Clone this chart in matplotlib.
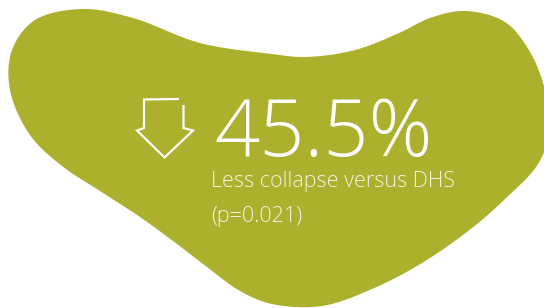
import numpy as np
import matplotlib
matplotlib.use("Agg")
import matplotlib.pyplot as plt
from matplotlib.patches import Polygon

# ---- data ----
reduction_pct = 45.5
p_value = 0.021
label_main = f"{reduction_pct}%"
label_sub = "Less collapse versus DHS"
label_p = f"(p={p_value})"

# blob outline control points (pixel space)
blob_x = [83, 133, 200, 272, 305, 355, 399, 430, 465, 505, 530, 545, 550,
          538, 505, 472, 422, 372, 322, 272, 240, 207, 173, 140, 100, 62,
          30, 10, 12, 35]
blob_y = [9, 18, 43, 54, 57, 50, 33, 18, 11, 22, 52, 90, 130,
          164, 199, 228, 263, 289, 306, 304, 291, 267, 241, 217, 191, 166,
          135, 90, 50, 20]

# arrow outline points (pixel space)
arrow_x = [179, 144, 144, 137, 164.5, 193, 183.5, 183.5]
arrow_y = [99, 99.5, 128, 130.5, 157.5, 130.5, 128, 105]

GREEN = "#abb02d"
TEXT_SUB = "#f3f3e2"
W, H = 544, 308
DPI = 100


def catmull_rom_closed(xs, ys, n=40, alpha=0.5):
    P = np.column_stack([xs, ys]).astype(float)
    N = len(P)
    out = []
    for i in range(N):
        p0, p1, p2, p3 = P[(i - 1) % N], P[i], P[(i + 1) % N], P[(i + 2) % N]
        t0 = 0.0
        t1 = t0 + np.linalg.norm(p1 - p0) ** alpha
        t2 = t1 + np.linalg.norm(p2 - p1) ** alpha
        t3 = t2 + np.linalg.norm(p3 - p2) ** alpha
        t = np.linspace(t1, t2, n, endpoint=False)[:, None]
        a1 = (t1 - t) / (t1 - t0) * p0 + (t - t0) / (t1 - t0) * p1
        a2 = (t2 - t) / (t2 - t1) * p1 + (t - t1) / (t2 - t1) * p2
        a3 = (t3 - t) / (t3 - t2) * p2 + (t - t2) / (t3 - t2) * p3
        b1 = (t2 - t) / (t2 - t0) * a1 + (t - t0) / (t2 - t0) * a2
        b2 = (t3 - t) / (t3 - t1) * a2 + (t - t1) / (t3 - t1) * a3
        c = (t2 - t) / (t2 - t1) * b1 + (t - t1) / (t2 - t1) * b2
        out.append(c)
    return np.vstack(out)


FAM = ["Open Sans", "DejaVu Sans"]

fig = plt.figure(figsize=(W / DPI, H / DPI), dpi=DPI)
ax = fig.add_axes([0, 0, 1, 1])
ax.set_xlim(0, W)
ax.set_ylim(H, 0)
ax.axis("off")

pts = catmull_rom_closed(blob_x, blob_y)
ax.add_patch(Polygon(pts, closed=True, facecolor=GREEN, edgecolor="none"))

ax.plot(arrow_x, arrow_y, color="white", lw=1.6, solid_joinstyle="miter",
        solid_capstyle="butt")

ax.text(214, 156, label_main, color="white", fontsize=57, fontweight="light",
        family=FAM, ha="left", va="baseline")
ax.text(211, 187.5, label_sub, color=TEXT_SUB, fontsize=15.5, fontweight="light",
        family=FAM, ha="left", va="baseline")
ax.text(211, 222, label_p, color=TEXT_SUB, fontsize=15.5, fontweight="light",
        family=FAM, ha="left", va="baseline")

fig.savefig("out.png", dpi=DPI, facecolor="white")
